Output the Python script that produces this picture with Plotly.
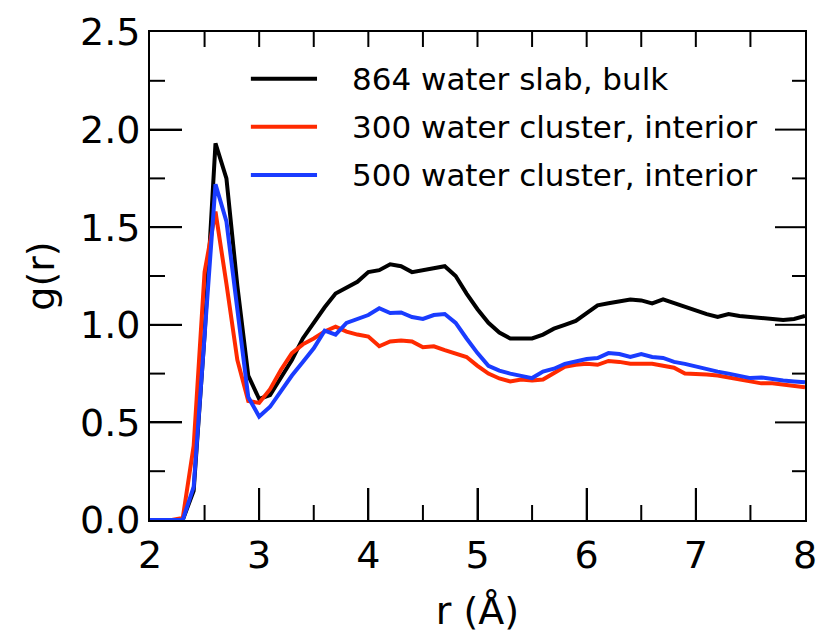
import plotly.graph_objects as go

r = [round(2.0 + 0.1 * i, 1) for i in range(61)]

g_slab_bulk = [0.0, 0.0, 0.0, 0.0, 0.15, 0.95, 1.93, 1.75, 1.20, 0.74,
               0.62, 0.64, 0.73, 0.82, 0.93, 1.01, 1.09, 1.16, 1.19, 1.22,
               1.27, 1.28, 1.31, 1.30, 1.27, 1.28, 1.29, 1.30, 1.25, 1.16,
               1.08, 1.01, 0.96, 0.93, 0.93, 0.93, 0.95, 0.98, 1.00, 1.02,
               1.06, 1.10, 1.11, 1.12, 1.13, 1.125, 1.11, 1.13, 1.11, 1.09,
               1.07, 1.055, 1.04, 1.055, 1.045, 1.04, 1.035, 1.03, 1.025, 1.03,
               1.045]

g_300_interior = [0.0, 0.0, 0.0, 0.01, 0.38, 1.27, 1.58, 1.21, 0.82, 0.61,
                  0.60, 0.67, 0.77, 0.855, 0.90, 0.93, 0.966, 0.99, 0.965, 0.95,
                  0.94, 0.89, 0.915, 0.92, 0.915, 0.885, 0.89, 0.87, 0.855, 0.835,
                  0.79, 0.75, 0.725, 0.71, 0.72, 0.715, 0.72, 0.75, 0.785, 0.795,
                  0.80, 0.795, 0.815, 0.81, 0.80, 0.80, 0.80, 0.79, 0.78, 0.75,
                  0.75, 0.745, 0.74, 0.73, 0.72, 0.71, 0.70, 0.70, 0.695, 0.69,
                  0.68]

g_500_interior = [0.0, 0.0, 0.0, 0.0, 0.17, 0.95, 1.72, 1.53, 1.08, 0.63,
                  0.53, 0.58, 0.66, 0.74, 0.81, 0.88, 0.97, 0.95, 1.01, 1.03,
                  1.05, 1.085, 1.06, 1.063, 1.04, 1.03, 1.05, 1.055, 1.01, 0.93,
                  0.855, 0.79, 0.765, 0.75, 0.74, 0.727, 0.76, 0.775, 0.80, 0.815,
                  0.825, 0.83, 0.855, 0.85, 0.835, 0.85, 0.835, 0.83, 0.81, 0.80,
                  0.785, 0.77, 0.76, 0.75, 0.74, 0.727, 0.73, 0.72, 0.715, 0.71,
                  0.705]

names = ["864 water slab, bulk", "300 water cluster, interior", "500 water cluster, interior"]
colors = ["#000000", "#ff2a00", "#1a3cff"]
series = [g_slab_bulk, g_300_interior, g_500_interior]

# tick positions
x_major_ticks = [3, 4, 5, 6, 7]
x_minor_ticks = [2.5, 3.5, 4.5, 5.5, 6.5, 7.5]
x_top_ticks = [2.5, 3.0, 3.5, 4.0, 4.5, 5.0, 5.5, 6.0, 6.5, 7.0, 7.5]
y_major_ticks = [0.5, 1.0, 1.5, 2.0]
y_minor_ticks = [0.25, 0.75, 1.25, 1.75, 2.25]

FONT = "DejaVu Sans"
X_RANGE = [2, 8]
Y_RANGE = [0, 2.5]
PLOT_W, PLOT_H = 655, 488  # plot area in px (for tick lengths)

fig = go.Figure()
for name, col, ys in zip(names, colors, series):
    fig.add_trace(go.Scatter(x=r, y=ys, mode="lines", name=name,
                             line=dict(color=col, width=4), showlegend=False))

tick_line = dict(color="black", width=2)


def xtick(xv, length_px, top=False):
    h = length_px / PLOT_H
    y0, y1 = (1 - h, 1) if top else (0, h)
    fig.add_shape(type="line", xref="x", yref="paper", x0=xv, x1=xv,
                  y0=y0, y1=y1, line=tick_line, layer="above")


def ytick(yv, length_px, right=False):
    w = length_px / PLOT_W
    x0, x1 = (1 - w, 1) if right else (0, w)
    fig.add_shape(type="line", xref="paper", yref="y", x0=x0, x1=x1,
                  y0=yv, y1=yv, line=tick_line, layer="above")


for v in x_major_ticks:
    xtick(v, 32)
for v in x_minor_ticks:
    xtick(v, 15)
for v in x_top_ticks:
    xtick(v, 15, top=True)
for v in y_major_ticks:
    ytick(v, 32)
    ytick(v, 30, right=True)
for v in y_minor_ticks:
    ytick(v, 15)
    ytick(v, 13, right=True)

# manual legend (line samples + labels)
leg_y = [0.904, 0.806, 0.707]
for name, col, yy in zip(names, colors, leg_y):
    fig.add_shape(type="line", xref="paper", yref="paper",
                  x0=0.154, x1=0.255, y0=yy, y1=yy,
                  line=dict(color=col, width=4))
    fig.add_annotation(xref="paper", yref="paper", x=0.305, y=yy,
                       text=name, showarrow=False, xanchor="left", yanchor="middle",
                       font=dict(family=FONT, size=31, color="black"))

axis_common = dict(showline=True, linecolor="black", linewidth=2, mirror=True,
                   showgrid=False, zeroline=False, ticks="inside",
                   tickcolor="black", tickwidth=2, automargin=False)

fig.update_layout(
    width=820, height=638,
    margin=dict(l=150, r=15, t=32, b=118),
    plot_bgcolor="white", paper_bgcolor="white",
    font=dict(family=FONT, size=38, color="black"),
    xaxis=dict(range=X_RANGE, dtick=1, tick0=2, ticklen=32,
               title=dict(text="r (Å)", font=dict(family=FONT, size=38), standoff=22),
               tickfont=dict(family=FONT, size=38), **axis_common),
    yaxis=dict(range=Y_RANGE, dtick=0.5, tick0=0, ticklen=32, tickformat=".1f",
               title=dict(text="g(r)", font=dict(family=FONT, size=38), standoff=14),
               tickfont=dict(family=FONT, size=38), **axis_common),
)

fig.write_html("out.html")
